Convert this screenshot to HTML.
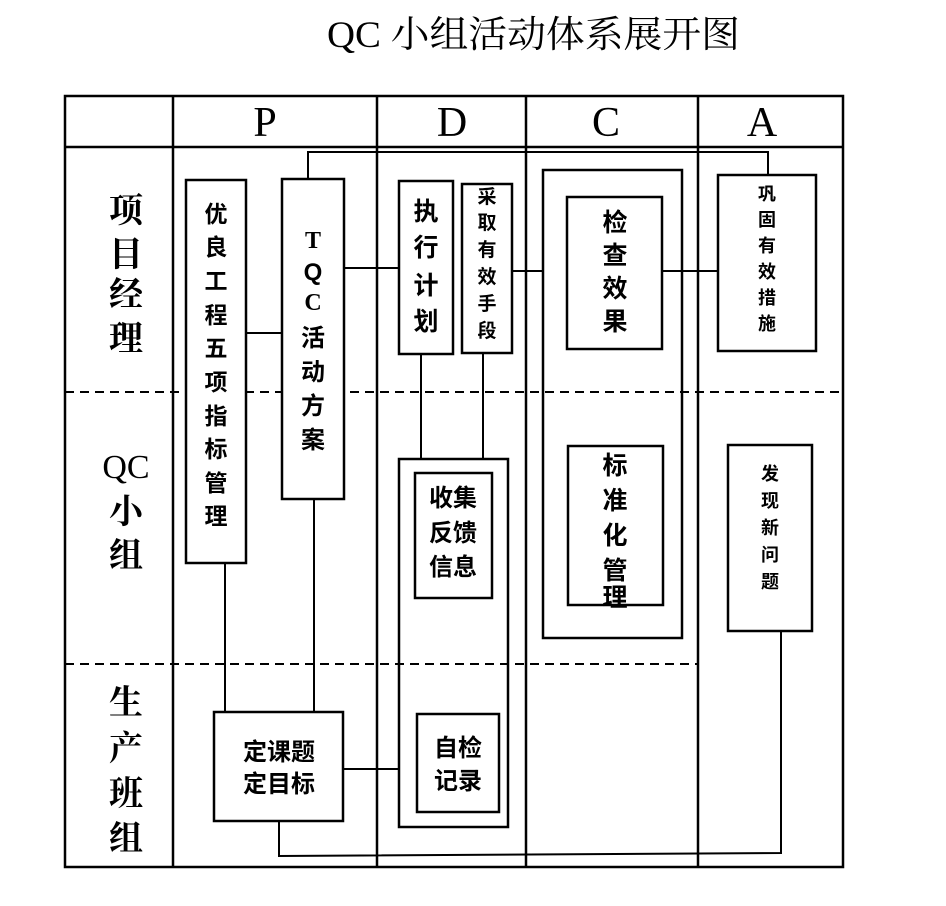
<!DOCTYPE html>
<html><head><meta charset="utf-8"><style>
html,body{margin:0;padding:0;background:#fff;}
svg{display:block;}
.t{font-family:"Liberation Serif","Noto Serif CJK SC",serif;}
.b{font-family:"Liberation Sans","Noto Sans CJK SC",sans-serif;font-weight:bold;}
.s{font-family:"Liberation Serif","Noto Serif CJK SC",serif;}
</style></head><body>
<svg width="946" height="906" viewBox="0 0 946 906" xmlns="http://www.w3.org/2000/svg">
<g fill="none" stroke="#000" stroke-width="2.5">
<rect x="65" y="96" width="778" height="771"/>
<line x1="65" y1="147" x2="843" y2="147"/>
<line x1="173" y1="96" x2="173" y2="867"/>
<line x1="377" y1="96" x2="377" y2="867"/>
<line x1="526" y1="96" x2="526" y2="867"/>
<line x1="698" y1="96" x2="698" y2="867"/>
</g>
<g fill="none" stroke="#000" stroke-width="2" stroke-dasharray="9,6">
<line x1="65" y1="392" x2="843" y2="392"/>
<line x1="65" y1="664" x2="698" y2="664"/>
</g>
<g fill="none" stroke="#000" stroke-width="2.5">
<rect x="543" y="170" width="139" height="468"/>
<rect x="399" y="459" width="109" height="368"/>
</g>
<g fill="#fff" stroke="#000" stroke-width="2.5">
<rect x="186" y="180" width="60" height="383"/>
<rect x="282" y="179" width="62" height="320"/>
<rect x="399" y="181" width="54" height="173"/>
<rect x="462" y="184" width="50" height="169"/>
<rect x="567" y="197" width="95" height="152"/>
<rect x="568" y="446" width="95" height="159"/>
<rect x="718" y="175" width="98" height="176"/>
<rect x="728" y="445" width="84" height="186"/>
<rect x="415" y="473" width="77" height="125"/>
<rect x="417" y="714" width="82" height="98"/>
<rect x="214" y="712" width="129" height="109"/>
</g>
<g fill="none" stroke="#000" stroke-width="2">
<polyline points="308,179 308,152 768,152 768,175"/>
<line x1="246" y1="333" x2="282" y2="333"/>
<line x1="344" y1="268" x2="399" y2="268"/>
<line x1="512" y1="271" x2="543" y2="271"/>
<line x1="662" y1="271" x2="718" y2="271"/>
<line x1="421" y1="354" x2="421" y2="459"/>
<line x1="483" y1="353" x2="483" y2="459"/>
<line x1="225" y1="563" x2="225" y2="712"/>
<line x1="314" y1="499" x2="314" y2="712"/>
<line x1="343" y1="769" x2="399" y2="769"/>
<polyline points="279,821 279,856 781,853 781,631"/>
</g>
<text class="t" x="327" y="47" font-size="37" textLength="413" lengthAdjust="spacingAndGlyphs">QC 小组活动体系展开图</text>
<g class="s" font-size="42" text-anchor="middle">
<text x="265" y="136">P</text><text x="452" y="136">D</text><text x="606" y="136">C</text><text x="762" y="136">A</text>
</g>
<g class="t" font-size="34" text-anchor="middle" font-weight="bold">
<text x="126" y="222">项</text><text x="126" y="266">目</text><text x="126" y="306">经</text><text x="126" y="350">理</text>
<text x="126" y="478" font-weight="normal">QC</text><text x="126" y="523">小</text><text x="126" y="567">组</text>
<text x="126" y="714">生</text><text x="126" y="760">产</text><text x="126" y="805">班</text><text x="126" y="850">组</text>
</g>
<g class="b" text-anchor="middle">
<g font-size="23"><text x="216" y="222">优</text><text x="216" y="255">良</text><text x="216" y="289">工</text><text x="216" y="323">程</text><text x="216" y="356">五</text><text x="216" y="390">项</text><text x="216" y="424">指</text><text x="216" y="457">标</text><text x="216" y="491">管</text><text x="216" y="524">理</text></g>
<g font-size="24"><text x="313" y="248" class="s">T</text><text x="313" y="280">Q</text><text x="313" y="310" class="s">C</text><text x="313" y="346">活</text><text x="313" y="380">动</text><text x="313" y="414">方</text><text x="313" y="448">案</text></g>
<g font-size="25"><text x="426" y="220">执</text><text x="426" y="256">行</text><text x="426" y="294">计</text><text x="426" y="330">划</text></g>
<g font-size="19"><text x="487" y="203">采</text><text x="487" y="229">取</text><text x="487" y="256">有</text><text x="487" y="283">效</text><text x="487" y="310">手</text><text x="487" y="337">段</text></g>
<g font-size="25"><text x="615" y="231">检</text><text x="615" y="264">查</text><text x="615" y="297">效</text><text x="615" y="330">果</text></g>
<g font-size="18"><text x="767" y="200">巩</text><text x="767" y="226">固</text><text x="767" y="252">有</text><text x="767" y="278">效</text><text x="767" y="304">措</text><text x="767" y="330">施</text></g>
<g font-size="25"><text x="615" y="474">标</text><text x="615" y="509">准</text><text x="615" y="544">化</text><text x="615" y="579">管</text><text x="615" y="606">理</text></g>
<g font-size="18"><text x="770" y="480">发</text><text x="770" y="507">现</text><text x="770" y="534">新</text><text x="770" y="561">问</text><text x="770" y="588">题</text></g>
<g font-size="24"><text x="453" y="506">收集</text><text x="453" y="541">反馈</text><text x="453" y="575">信息</text></g>
<g font-size="24"><text x="458" y="756">自检</text><text x="458" y="789">记录</text></g>
<g font-size="24"><text x="279" y="760">定课题</text><text x="279" y="792">定目标</text></g>
</g>
</svg>
</body></html>
